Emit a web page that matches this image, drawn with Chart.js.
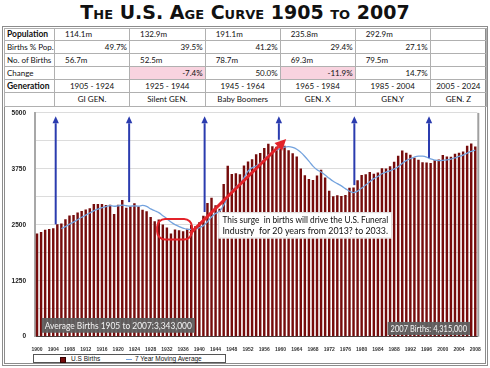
<!DOCTYPE html>
<html>
<head>
<meta charset="utf-8">
<script src="https://cdn.jsdelivr.net/npm/chart.js@4.4.1/dist/chart.umd.min.js"></script>
<style>
body{margin:0;width:490px;height:368px;background:#fff;position:relative;overflow:hidden;font-family:"Lato",sans-serif;color:#111}
#title{position:absolute;left:0;top:1px;width:490px;text-align:center;font-family:"DejaVu Sans",sans-serif;font-weight:bold;font-size:19px;font-variant:small-caps;letter-spacing:0px;color:#111}
#frame{position:absolute;left:2px;top:26px;width:486px;height:340px;border:3px double #8c8c8c;box-sizing:border-box}
#tbl{position:absolute;left:4px;top:28px;width:482px;border-collapse:collapse;table-layout:fixed;font-size:8px}
#tbl td{border:1px solid #b0b0b0;height:12px;padding:0 2px;white-space:nowrap;overflow:hidden;line-height:11px}
#tbl tr:first-child td{height:10px}
#tbl tr:last-child td{height:13px}
#tbl td.h{font-weight:bold;font-size:8.5px}
#tbl td.l{padding-left:10px}
#tbl td.r{text-align:right;padding-right:2px}
#tbl td.c{text-align:center}
#tbl td.neg{background:#f8d3df}
#c{position:absolute;left:0;top:100px}
#legend{position:absolute;left:33px;top:354px;width:193px;height:9px;border:1px solid #555;box-sizing:border-box;font-family:"Liberation Sans",sans-serif;font-size:6.5px;background:#fff}
#legend span{position:absolute}
</style>
</head>
<body>
<div id="title">The U.S. Age Curve 1905 to 2007</div>
<div id="frame"></div>
<table id="tbl"></table>
<canvas id="c" width="490" height="252"></canvas>
<div id="legend">
  <span style="left:26px;top:1.5px;width:4px;height:4px;background:#760c0c;border:0.5px solid #300"></span>
  <span style="left:37px;top:0px">U.S Births</span>
  <span style="left:92px;top:3.5px;width:6px;height:1px;background:#74a3de"></span>
  <span style="left:101px;top:0px">7 Year Moving Average</span>
</div>
<script>
// table rows
const rowHeads = ["Population", "Births % Pop.", "No. of Births", "Change", "Generation", ""];
const population = ["114.1m", "132.9m", "191.1m", "235.8m", "292.9m", ""];
const birthsPct = ["49.7%", "39.5%", "41.2%", "29.4%", "27.1%", ""];
const birthsTotal = ["56.7m", "52.5m", "78.7m", "69.3m", "79.5m", ""];
const change = ["", "-7.4%", "50.0%", "-11.9%", "14.7%", ""];
const genYears = ["1905 - 1924", "1925 - 1944", "1945 - 1964", "1965 - 1984", "1985 - 2004", "2005 - 2024"];
const genNames = ["GI GEN.", "Silent GEN.", "Baby Boomers", "GEN. X", "GEN.Y", "GEN. Z"];

// births in thousands, 1900 - 2008
const firstYear = 1900;
const births = [
 2305,2340,2390,2405,2425,2510,2527,2622,2710,2718,
 2777,2809,2840,2869,2966,2965,2964,2944,2948,2740,
 2950,3055,2882,2910,2979,2909,2839,2802,2674,2582,
 2618,2506,2440,2307,2396,2377,2355,2413,2496,2466,
 2559,2703,2989,3104,2939,2858,3411,3817,3637,3649,
 3632,3823,3913,3965,4078,4104,4218,4308,4255,4245,
 4258,4268,4167,4098,4027,3760,3606,3521,3502,3600,
 3731,3556,3258,3137,3160,3144,3168,3327,3333,3494,
 3612,3629,3681,3639,3669,3761,3757,3809,3910,4041,
 4158,4111,4065,4000,3953,3900,3891,3881,3942,3959,
 4059,4026,4022,4090,4112,4138,4266,4316,4248
];
// 7 year moving average, starts 1906
const movingAvg = [
 null,null,null,null,null,null,2415,2460,2513,2560,
 2613,2668,2715,2764,2813,2849,2884,2908,2928,2914,
 2925,2938,2926,2918,2923,2918,2932,2911,2856,2814,
 2772,2704,2637,2561,2503,2461,2428,2399,2398,2401,
 2437,2481,2569,2676,2751,2803,2938,3117,3251,3345,
 3420,3547,3697,3777,3814,3881,3962,4058,4120,4168,
 4209,4237,4246,4228,4188,4118,4026,3921,3812,3731,
 3678,3611,3539,3472,3421,3369,3308,3250,3218,3252,
 3320,3387,3463,3531,3580,3641,3678,3706,3747,3798,
 3872,3935,3979,4013,4034,4033,4011,3972,3947,3932,
 3941,3951,3969,3997,4030,4058,4102,4139,4170
];
const years = births.map((b, i) => firstYear + i);

// annotations in data units (year, thousands)
const arrowYears = [1904.6, 1922.7, 1941.3, 1959.6, 1978.2, 1996.6];
const arrowBottoms = [2510, 3007, 2786, 4400, 3386, 3996];
const arrowTop = 4925;
const surgeFrom = [1937.7, 2302];
const surgeTo = [1961.4, 4415];
const dipBox = [1929.6, 2632, 1938.2, 2170];
const noteBox = [1944.7, 2782, 1987.5, 2195];
const noteLines = ["This surge  in births will drive the U.S. Funeral", "Industry  for 20 years from 2013? to 2033."];
const avgBox = [1901.15, 418, 1938.9, 88];
const avgText = "Average Births 1905 to 2007:3,343,000";
const lastBox = [1986.4, 330, 2006.7, 37];
const lastText = "2007 Births: 4,315,000";

// build table
const tbl = document.getElementById("tbl");
const widths = [50, 75, 75.7, 75, 75, 75, 56.3];
let cg = "<colgroup>" + widths.map(w => '<col style="width:' + w + 'px">').join("") + "</colgroup>";
function row(head, cells, cls, headBold) {
  let h = '<tr><td class="' + (headBold ? "h" : "") + '">' + head + "</td>";
  cells.forEach(c => {
    let k = cls;
    if (cls == "r" && c.startsWith("-")) k += " neg";
    h += '<td class="' + k + '">' + c + "</td>";
  });
  return h + "</tr>";
}
tbl.innerHTML = cg +
  row(rowHeads[0], population, "l", true) +
  row(rowHeads[1], birthsPct, "r") +
  row(rowHeads[2], birthsTotal, "l") +
  row(rowHeads[3], change, "r") +
  row(rowHeads[4], genYears, "c", true) +
  row(rowHeads[5], genNames, "c");

const annotate = {
  id: "annotate",
  afterDatasetsDraw(chart) {
    const ctx = chart.ctx;
    const x = chart.scales.x, y = chart.scales.y;
    const px = yr => x.getPixelForValue(yr - firstYear);
    const py = v => y.getPixelForValue(v);
    const area = chart.chartArea;

    ctx.save();
    // plot right border
    ctx.strokeStyle = "#a0a0a0";
    ctx.lineWidth = 2;
    ctx.beginPath();
    ctx.moveTo(area.right + 1, area.top);
    ctx.lineTo(area.right + 1, area.bottom);
    ctx.stroke();

    function arrow(x0, y0, x1, y1, color, w, head, hw) {
      const ang = Math.atan2(y1 - y0, x1 - x0);
      const bx = x1 - head * Math.cos(ang), by = y1 - head * Math.sin(ang);
      ctx.strokeStyle = color;
      ctx.fillStyle = color;
      ctx.lineWidth = w;
      ctx.beginPath();
      ctx.moveTo(x0, y0);
      ctx.lineTo(bx, by);
      ctx.stroke();
      ctx.beginPath();
      ctx.moveTo(x1, y1);
      ctx.lineTo(bx + hw * Math.sin(ang), by - hw * Math.cos(ang));
      ctx.lineTo(bx - hw * Math.sin(ang), by + hw * Math.cos(ang));
      ctx.closePath();
      ctx.fill();
    }

    // blue generation arrows
    arrowYears.forEach((yr, i) => {
      arrow(px(yr), py(arrowBottoms[i]), px(yr), py(arrowTop), "#2b3caf", 2, 7, 3.2);
    });

    // red dip box
    ctx.strokeStyle = "#e3232a";
    ctx.lineWidth = 2;
    ctx.beginPath();
    ctx.roundRect(px(dipBox[0]), py(dipBox[1]), px(dipBox[2]) - px(dipBox[0]), py(dipBox[3]) - py(dipBox[1]), 8);
    ctx.stroke();

    // red surge arrow
    arrow(px(surgeFrom[0]), py(surgeFrom[1]), px(surgeTo[0]), py(surgeTo[1]), "#e3232a", 3, 11, 5.5);

    // note box
    const nx = px(noteBox[0]), ny = py(noteBox[1]);
    const nw = px(noteBox[2]) - nx, nh = py(noteBox[3]) - ny;
    ctx.fillStyle = "#fff";
    ctx.fillRect(nx, ny, nw, nh);
    ctx.strokeStyle = "#ddd";
    ctx.lineWidth = 1;
    ctx.strokeRect(nx + 0.5, ny + 0.5, nw - 1, nh - 1);
    ctx.fillStyle = "#111";
    ctx.font = "9px Lato";
    ctx.textBaseline = "middle";
    ctx.textAlign = "left";
    ctx.fillText(noteLines[0], nx + 4, ny + nh * 0.31, nw - 8);
    ctx.fillText(noteLines[1], nx + 4, ny + nh * 0.71, nw - 8);

    // gray value labels
    function grayLabel(b, text) {
      const bx = px(b[0]), by = py(b[1]);
      const bw = px(b[2]) - bx, bh = py(b[3]) - by;
      ctx.fillStyle = "rgba(95,95,95,0.95)";
      ctx.fillRect(bx, by, bw, bh);
      ctx.fillStyle = "#f4f4f4";
      ctx.font = "9px Lato";
      ctx.textAlign = "center";
      ctx.textBaseline = "middle";
      ctx.fillText(text, bx + bw / 2, by + bh / 2 + 0.5, bw - 6);
    }
    grayLabel(avgBox, avgText);
    grayLabel(lastBox, lastText);
    ctx.restore();
  }
};

new Chart(document.getElementById("c"), {
  type: "bar",
  data: {
    labels: years.map(String),
    datasets: [
      {
        type: "line",
        label: "7 Year Moving Average",
        data: movingAvg,
        borderColor: "#74a3de",
        borderWidth: 1.3,
        pointRadius: 0,
        tension: 0.4,
        order: 0
      },
      {
        label: "U.S Births",
        data: births,
        backgroundColor: "#760c0c",
        barPercentage: 0.6,
        categoryPercentage: 1,
        order: 1
      }
    ]
  },
  options: {
    responsive: false,
    animation: false,
    layout: { padding: { top: 9.3, right: 12.7, left: 0, bottom: 0 }, autoPadding: false },
    plugins: { legend: { display: false }, tooltip: { enabled: false } },
    scales: {
      x: {
        grid: { display: false },
        border: { color: "#444", width: 1 },
        ticks: {
          autoSkip: false,
          maxRotation: 0,
          minRotation: 0,
          padding: 2,
          color: "#333",
          font: { size: 5, family: "Liberation Sans", weight: "bold" },
          callback: (v, i) => (years[i] % 4 === 0 ? String(years[i]) : "")
        },
        afterFit(s) { s.height = 15.3; }
      },
      y: {
        min: 0,
        max: 5000,
        ticks: {
          stepSize: 625,
          padding: 9,
          color: "#222",
          font: { size: 6.5, family: "Liberation Sans", weight: "bold" },
          callback: v => (v % 1250 === 0 ? String(v) : "")
        },
        grid: { color: "#dcdcdc", drawTicks: false },
        border: { color: "#a8a8a8", width: 2 },
        afterFit(s) { s.width = 35; }
      }
    }
  },
  plugins: [annotate]
});
</script>
</body>
</html>
